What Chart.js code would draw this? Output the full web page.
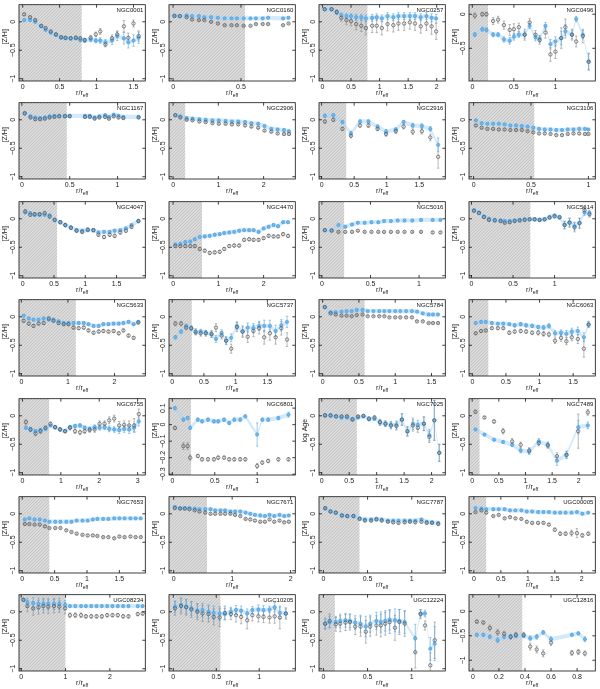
<!DOCTYPE html>
<html>
<head>
<meta charset="utf-8">
<script src="https://cdn.jsdelivr.net/npm/chart.js@4/dist/chart.umd.min.js"></script>
<style>
  body { margin: 0; background: #fff; }
  #grid { position: relative; width: 600px; height: 689px; }
  #grid canvas { position: absolute; }
</style>
</head>
<body>
<div id="grid"></div>
<script>
const galaxyNames = [
  "NGC0001", "NGC0160", "NGC0257", "NGC0496",
  "NGC1167", "NGC2906", "NGC2916", "NGC3106",
  "NGC4047", "NGC4470", "NGC5016", "NGC5614",
  "NGC5633", "NGC5737", "NGC5784", "NGC6063",
  "NGC6755", "NGC6801", "NGC7025", "NGC7489",
  "NGC7653", "NGC7671", "NGC7787", "UGC00005",
  "UGC08234", "UGC10205", "UGC12224", "UGC12816",
];

// r / r_eff of each radial bin
const radius = [
  [0.02,0.1,0.17,0.25,0.31,0.38,0.45,0.52,0.58,0.65,0.72,0.78,0.84,0.92,0.99,1.05,1.12,1.21,1.28,1.37,1.43,1.5,1.57],
  [0.01,0.05,0.1,0.14,0.19,0.23,0.28,0.33,0.38,0.43,0.47,0.52,0.57,0.61,0.66,0.7,0.81,0.85],
  [0.04,0.16,0.25,0.33,0.42,0.5,0.59,0.68,0.76,0.87,0.95,1.04,1.14,1.24,1.33,1.43,1.53,1.62,1.72,1.82,1.91,1.99],
  [0.03,0.12,0.17,0.25,0.31,0.38,0.45,0.5,0.56,0.63,0.69,0.76,0.81,0.88,0.94,1.0,1.07,1.12,1.2,1.25,1.33,1.4],
  [0.03,0.09,0.14,0.19,0.24,0.29,0.34,0.39,0.45,0.5,0.66,0.71,0.76,0.81,0.87,0.91,0.96,1.01,1.06,1.22],
  [0.05,0.16,0.3,0.43,0.58,0.72,0.87,1.01,1.16,1.3,1.44,1.59,1.73,1.88,2.02,2.17,2.31,2.45,2.56],
  [0.05,0.18,0.32,0.45,0.59,0.72,0.86,0.99,1.14,1.26,1.4,1.54,1.67,1.79],
  [0.02,0.07,0.12,0.17,0.22,0.27,0.32,0.37,0.42,0.47,0.52,0.57,0.62,0.67,0.72,0.77,0.82,0.87,0.92,0.97,1.0],
  [0.04,0.12,0.19,0.27,0.35,0.43,0.51,0.6,0.68,0.77,0.86,0.95,1.04,1.13,1.21,1.3,1.39,1.47,1.56,1.65,1.74,1.85],
  [0.05,0.16,0.27,0.38,0.48,0.59,0.7,0.81,0.92,1.03,1.13,1.24,1.35,1.46,1.57,1.68,1.78,1.89,2.0,2.11,2.22,2.32,2.43,2.54],
  [0.03,0.1,0.17,0.24,0.31,0.37,0.44,0.51,0.58,0.64,0.71,0.78,0.85,0.93,1.02,1.14,1.22],
  [0.03,0.09,0.15,0.21,0.28,0.35,0.4,0.46,0.52,0.58,0.64,0.7,0.76,0.82,0.88,0.94,1.0,1.06,1.12,1.18,1.24,1.3,1.36,1.42],
  [0.05,0.16,0.26,0.37,0.48,0.59,0.69,0.8,0.91,1.01,1.12,1.23,1.34,1.44,1.55,1.66,1.76,1.87,1.98,2.09,2.19,2.3,2.41,2.51],
  [0.05,0.14,0.22,0.3,0.37,0.45,0.53,0.62,0.69,0.78,0.85,0.93,1.02,1.11,1.19,1.28,1.37,1.45,1.54,1.63,1.72,1.81],
  [0.03,0.11,0.18,0.26,0.33,0.4,0.47,0.55,0.62,0.7,0.78,0.85,0.92,1.0,1.07,1.15,1.23,1.3,1.38,1.46,1.52,1.59],
  [0.05,0.13,0.2,0.29,0.38,0.46,0.55,0.63,0.72,0.8,0.89,0.98,1.06,1.14,1.23,1.32,1.4,1.48,1.57,1.66,1.73],
  [0.09,0.21,0.34,0.47,0.6,0.73,0.85,0.98,1.11,1.24,1.37,1.5,1.62,1.75,1.88,2.01,2.14,2.26,2.39,2.52,2.65,2.78,2.91,3.03],
  [0.03,0.13,0.18,0.21,0.3,0.35,0.42,0.49,0.54,0.61,0.67,0.73,0.8,0.86,1.0,1.06,1.13,1.25,1.37],
  [0.06,0.16,0.26,0.36,0.46,0.56,0.66,0.76,0.86,0.96,1.06,1.16,1.26,1.36,1.46,1.56,1.66,1.75,1.86,1.96,2.05,2.14],
  [0.06,0.23,0.41,0.58,0.75,0.91,1.07,1.25,1.42,1.59,1.77,1.99,2.17],
  [0.04,0.11,0.19,0.27,0.35,0.42,0.51,0.59,0.68,0.76,0.84,0.93,1.01,1.09,1.16,1.25,1.33,1.42,1.5,1.58,1.67,1.75,1.83],
  [0.02,0.11,0.19,0.27,0.36,0.44,0.54,0.63,0.71,0.8,0.88,0.97,1.05,1.14,1.23,1.31,1.39,1.48,1.56,1.64,1.72,1.81,1.89,1.97],
  [0.02,0.08,0.14,0.21,0.27,0.34,0.41,0.47,0.54,0.6,0.66,0.73,0.79,0.85,0.92,0.98,1.04,1.11,1.17,1.23,1.3],
  [0.03,0.14,0.23,0.36,0.46,0.57,0.67,0.77,0.88,0.98,1.08,1.19,1.29,1.39,1.5,1.6,1.7,1.81,1.91,2.01,2.12],
  [0.05,0.14,0.27,0.39,0.5,0.61,0.74,0.86,0.99,1.1,1.22,1.35,1.46,1.58,1.7,1.82,1.94,2.06,2.18,2.3,2.42,2.63,2.74],
  [0.02,0.09,0.15,0.21,0.28,0.34,0.41,0.47,0.54,0.6,0.67,0.73,0.79,0.86,0.92,0.99,1.05,1.12,1.18,1.24,1.31],
  [0.02,0.07,0.14,0.19,0.25,0.3,0.36,0.42,0.48,0.53,0.6,0.65,0.7,0.75,0.81,0.86,0.92,1.04,1.1,1.15,1.21,1.26],
  [0.03,0.08,0.13,0.19,0.24,0.29,0.33,0.39,0.44,0.49,0.54,0.6,0.76,0.81,0.86],
];

// light-weighted values (blue, filled)
const zhLight = [
  [0.03,0.03,0,-0.08,-0.14,-0.19,-0.23,-0.28,-0.29,-0.29,-0.29,-0.32,-0.33,-0.31,-0.33,-0.33,-0.36,-0.33,-0.25,-0.29,-0.36,-0.33,-0.28],
  [0.11,0.1,0.11,0.1,0.1,0.08,0.08,0.07,0.06,0.06,0.06,0.06,0.06,0.06,0.06,0.07,0.06,0.07],
  [0.22,0.22,0.17,0.12,0.1,0.1,0.08,0.08,0.06,0.07,0.08,0.06,0.1,0.08,0.1,0.1,0.1,0.1,0.08,0.1,0.07,0.06],
  [-0.3,-0.22,-0.23,-0.3,-0.3,-0.37,-0.39,-0.33,-0.3,-0.3,-0.17,-0.34,-0.36,-0.17,-0.44,-0.4,-0.35,-0.25,-0.3,-0.07,-0.3,-0.69],
  [0.12,0.06,0.04,0.03,0.04,0.06,0.07,0.07,0.07,0.07,0.07,0.07,0.04,0.06,0.08,0.05,0.09,0.07,0.05,0.05],
  [0.08,0.06,0.03,0.02,0.01,0,-0.01,-0.01,-0.02,-0.03,-0.03,-0.04,-0.06,-0.07,-0.11,-0.16,-0.17,-0.18,-0.2],
  [0.07,0.08,-0.04,-0.24,-0.03,-0.03,-0.12,-0.21,-0.17,-0.04,-0.1,-0.11,-0.16,-0.44],
  [-0.01,-0.06,-0.07,-0.07,-0.07,-0.08,-0.1,-0.1,-0.11,-0.12,-0.14,-0.16,-0.17,-0.17,-0.18,-0.18,-0.17,-0.17,-0.16,-0.16,-0.17],
  [0.11,0.1,0.07,0.07,0.07,0.06,-0.02,-0.06,-0.11,-0.15,-0.2,-0.21,-0.2,-0.2,-0.24,-0.23,-0.23,-0.21,-0.2,-0.17,-0.11,-0.04],
  [-0.45,-0.44,-0.41,-0.4,-0.36,-0.32,-0.31,-0.3,-0.28,-0.27,-0.25,-0.24,-0.23,-0.21,-0.2,-0.2,-0.2,-0.23,-0.17,-0.14,-0.11,-0.13,-0.06,-0.06],
  [-0.2,-0.2,-0.11,-0.14,-0.1,-0.07,-0.07,-0.06,-0.06,-0.04,-0.04,-0.03,-0.03,-0.03,-0.02,-0.02,-0.02],
  [0.15,0.11,0.04,0,-0.02,-0.03,-0.04,-0.04,-0.03,-0.02,-0.01,-0.01,-0.01,-0.02,-0.01,0.03,0.06,0.02,-0.11,-0.06,-0.13,-0.07,0.11,0.1],
  [0.02,-0.03,-0.05,-0.05,-0.03,-0.05,-0.05,-0.08,-0.11,-0.11,-0.11,-0.11,-0.11,-0.13,-0.16,-0.16,-0.13,-0.13,-0.12,-0.12,-0.11,-0.09,-0.13,-0.09],
  [-0.36,-0.26,-0.16,-0.2,-0.28,-0.26,-0.28,-0.31,-0.39,-0.28,-0.42,-0.37,-0.16,-0.26,-0.19,-0.2,-0.16,-0.16,-0.16,-0.25,-0.15,-0.09],
  [0.17,0.08,0.08,0.09,0.1,0.1,0.12,0.12,0.1,0.1,0.1,0.1,0.1,0.1,0.1,0.1,0.1,0.09,0.06,0.04,0.04,0.04],
  [-0.11,-0.09,-0.09,-0.11,-0.12,-0.12,-0.13,-0.15,-0.13,-0.15,-0.16,-0.18,-0.19,-0.16,-0.29,-0.28,-0.3,-0.26,-0.25,-0.36,-0.13],
  [-0.21,-0.24,-0.27,-0.25,-0.23,-0.17,-0.2,-0.24,-0.27,-0.2,-0.18,-0.17,-0.21,-0.23,-0.2,-0.21,-0.2,-0.23,-0.24,-0.25,-0.23,-0.24,-0.21,-0.1],
  [0.1,0.03,0.04,-0.02,0.03,0.02,0.03,0.02,0.02,0.03,0.01,0.03,0.03,0.05,-0.06,0.03,0.03,0.04,0.06],
  [0,0,-0.01,-0.03,-0.03,-0.07,-0.03,-0.01,-0.06,-0.05,-0.12,-0.14,-0.16,-0.16,-0.06,-0.28,-0.14,-0.16,-0.14,-0.34,-0.08,-0.65],
  [-0.24,-0.33,-0.42,-0.46,-0.51,-0.61,-0.63,-0.45,-0.51,-0.79,-0.68,-0.2,-0.17],
  [-0.1,-0.08,-0.1,-0.1,-0.12,-0.14,-0.14,-0.14,-0.14,-0.14,-0.12,-0.12,-0.12,-0.1,-0.09,-0.09,-0.09,-0.08,-0.08,-0.08,-0.08,-0.08,-0.08],
  [0.12,0.1,0.1,0.1,0.09,0.08,0.08,0.08,0.06,0.06,0.06,0.04,0.04,0.04,0.02,0,-0.02,-0.03,-0.04,-0.02,-0.04,-0.02,-0.04,-0.03],
  [0.09,0.04,0.02,-0.03,-0.04,-0.04,-0.08,-0.1,-0.1,-0.09,-0.1,-0.12,-0.12,-0.12,-0.12,-0.12,-0.12,-0.1,-0.14,-0.15,-0.16],
  [0.1,0.09,0.08,0.08,0.08,0.08,0.06,0.06,0.06,0.04,0.04,0.03,0.03,0.03,0.02,0.02,0.02,0.02,0.03,0,0.02],
  [0.21,0.16,0.15,0.14,0.14,0.14,0.14,0.14,0.12,0.1,0.1,0.1,0.1,0.1,0.1,0.1,0.1,0.1,0.1,0.1,0.1,0.1,0.1],
  [0.09,0.12,0.09,0.06,0.02,0.03,0,-0.02,-0.03,-0.04,0,0.03,0.02,-0.03,0.03,0.04,0.03,0.04,0.08,-0.02,-0.03],
  [-0.21,-0.18,-0.18,-0.16,-0.15,-0.16,-0.19,-0.21,-0.26,-0.21,-0.16,-0.18,-0.16,-0.14,-0.15,-0.16,-0.18,-0.47,-0.03,-0.03,-0.65,-0.56],
  [-0.48,-0.48,-0.52,-0.59,-0.52,-0.52,-0.5,-0.5,-0.55,-0.52,-0.43,-0.57,-0.48,-0.45,-0.57],
];

// mass-weighted values (grey, open)
const zhMass = [
  [0.13,0.08,0.03,-0.07,-0.11,-0.17,-0.22,-0.27,-0.28,-0.29,-0.28,-0.29,-0.32,-0.28,-0.22,-0.17,-0.4,-0.29,-0.22,-0.08,-0.28,-0.03,-0.25],
  [0.1,0.1,0.08,0.04,0.03,0.03,0,-0.03,-0.06,-0.06,-0.06,-0.07,-0.07,-0.04,-0.04,-0.04,-0.06,-0.03],
  [0.22,0.22,0.17,0.07,0.03,0.01,-0.04,-0.07,-0.11,-0.07,-0.07,-0.11,-0.04,-0.06,-0.03,-0.03,-0.01,-0.03,-0.08,-0.03,-0.08,-0.17],
  [-0.02,0,0,-0.1,-0.08,-0.16,-0.23,-0.22,-0.19,-0.3,-0.12,-0.3,-0.38,-0.27,-0.59,-0.55,-0.35,-0.19,-0.3,-0.4,-0.32,-0.7],
  [0.11,0.04,0.01,0.01,0.02,0.04,0.05,0.06,0.06,0.06,0.05,0.05,0.02,0.04,0.05,0.02,0.06,0.04,0.03,0.04],
  [0.08,0.04,0,-0.01,-0.03,-0.04,-0.06,-0.07,-0.07,-0.08,-0.08,-0.1,-0.12,-0.14,-0.19,-0.21,-0.24,-0.25,-0.25],
  [-0.03,0,-0.16,-0.28,-0.1,-0.1,-0.16,-0.25,-0.2,-0.12,-0.21,-0.2,-0.31,-0.65],
  [-0.1,-0.14,-0.16,-0.16,-0.17,-0.17,-0.18,-0.18,-0.18,-0.2,-0.22,-0.24,-0.24,-0.25,-0.27,-0.27,-0.25,-0.24,-0.24,-0.25,-0.25],
  [0.13,0.07,0.08,0.08,0.1,0.04,-0.02,-0.06,-0.11,-0.16,-0.21,-0.23,-0.19,-0.2,-0.28,-0.32,-0.28,-0.3,-0.24,-0.21,-0.14,-0.04],
  [-0.48,-0.48,-0.48,-0.48,-0.48,-0.53,-0.56,-0.6,-0.59,-0.58,-0.53,-0.48,-0.47,-0.47,-0.37,-0.36,-0.37,-0.37,-0.34,-0.3,-0.31,-0.31,-0.27,-0.3],
  [-0.2,-0.21,-0.23,-0.23,-0.23,-0.21,-0.23,-0.23,-0.23,-0.23,-0.23,-0.23,-0.23,-0.23,-0.23,-0.24,-0.24],
  [0.14,0.1,0.03,-0.02,-0.03,-0.04,-0.07,-0.06,-0.04,-0.03,-0.02,-0.01,-0.01,-0.02,-0.01,0.02,0.04,0.03,-0.11,-0.07,-0.15,-0.08,0.15,0.08],
  [-0.07,-0.12,-0.16,-0.12,-0.11,-0.03,-0.07,-0.11,-0.13,-0.13,-0.19,-0.2,-0.19,-0.24,-0.28,-0.26,-0.25,-0.26,-0.25,-0.29,-0.24,-0.33,-0.37,-0.1],
  [-0.12,-0.12,-0.19,-0.2,-0.26,-0.29,-0.29,-0.3,-0.19,-0.33,-0.42,-0.56,-0.18,-0.26,-0.35,-0.25,-0.2,-0.36,-0.29,-0.36,-0.2,-0.4],
  [0.17,0.06,0.04,0.02,0.02,0.01,0.03,0.04,0.01,0.01,0.01,0.01,-0.01,-0.01,-0.01,-0.01,-0.01,-0.08,-0.08,-0.11,-0.11,-0.11],
  [-0.29,-0.25,-0.24,-0.2,-0.2,-0.2,-0.28,-0.26,-0.25,-0.26,-0.28,-0.28,-0.3,-0.31,-0.42,-0.37,-0.43,-0.36,-0.39,-0.56,-0.14],
  [-0.11,-0.24,-0.31,-0.27,-0.21,-0.14,-0.2,-0.24,-0.27,-0.21,-0.27,-0.29,-0.27,-0.25,-0.24,-0.14,-0.14,-0.08,-0.05,-0.17,-0.16,-0.17,-0.17,0.03],
  [-0.02,-0.13,-0.13,-0.2,-0.19,-0.21,-0.21,-0.21,-0.2,-0.2,-0.21,-0.21,-0.21,-0.21,-0.25,-0.23,-0.22,-0.21,-0.21],
  [0.01,0.01,-0.01,-0.01,-0.01,-0.06,-0.01,0,-0.05,-0.03,-0.11,-0.14,-0.17,-0.18,-0.07,-0.27,-0.17,-0.21,-0.14,-0.37,-0.08,-0.65],
  [0.07,-0.03,-0.1,-0.27,-0.45,-0.51,-0.61,-0.48,-0.52,-0.71,-0.69,-0.27,0.06],
  [-0.18,-0.18,-0.19,-0.19,-0.22,-0.25,-0.25,-0.25,-0.29,-0.32,-0.35,-0.37,-0.38,-0.38,-0.39,-0.41,-0.41,-0.43,-0.4,-0.41,-0.4,-0.41,-0.41],
  [0.1,0.09,0.09,0.08,0.06,0.04,0.02,0,0,0,0,0,-0.02,-0.04,-0.09,-0.1,-0.12,-0.14,-0.14,-0.1,-0.14,-0.12,-0.15,-0.14],
  [0.1,0.04,0.02,-0.03,-0.04,-0.04,-0.09,-0.12,-0.12,-0.1,-0.12,-0.14,-0.15,-0.16,-0.15,-0.14,-0.15,-0.14,-0.16,-0.16,-0.18],
  [0.03,0.06,0.02,-0.04,-0.02,-0.08,-0.06,-0.08,-0.09,-0.14,-0.16,-0.16,-0.16,-0.19,-0.28,-0.35,-0.35,-0.34,-0.34,-0.38,-0.35],
  [0.21,0.1,0.06,0.08,0.1,0.09,0.1,0.09,0.06,-0.06,-0.06,-0.06,-0.08,-0.08,-0.08,-0.08,-0.06,-0.06,-0.06,-0.08,-0.08,-0.04,-0.03],
  [0.06,0.1,0.08,0.04,0,-0.03,-0.04,-0.09,-0.1,-0.02,-0.04,-0.06,-0.09,-0.15,-0.06,-0.08,-0.09,-0.1,-0.08,-0.1,-0.03],
  [-0.21,-0.16,-0.22,-0.21,-0.19,-0.18,-0.26,-0.26,-0.35,-0.26,-0.24,-0.24,-0.21,-0.18,-0.28,-0.18,-0.21,-0.71,-0.04,-0.24,-0.94,-0.5],
  [-0.21,-0.23,-0.34,-0.43,-0.46,-0.52,-0.48,-0.48,-0.72,-0.78,-0.86,-0.64,-0.85,-0.83,-0.86],
];

// 1-sigma errors, one number for the whole profile or one per bin
const errLight = [
  [0.02,0.02,0.02,0.02,0.02,0.02,0.02,0.02,0.02,0.02,0.02,0.03,0.03,0.04,0.04,0.05,0.05,0.07,0.08,0.1,0.1,0.1,0.1],
  0.01,
  [0.02,0.02,0.03,0.03,0.04,0.04,0.05,0.05,0.06,0.06,0.06,0.06,0.06,0.06,0.06,0.06,0.06,0.06,0.06,0.06,0.07,0.07],
  [0.03,0.03,0.03,0.03,0.03,0.04,0.05,0.05,0.04,0.05,0.04,0.05,0.05,0.05,0.07,0.07,0.1,0.1,0.06,0.04,0.06,0.12],
  0.02,
  0.015,
  [0.03,0.03,0.03,0.04,0.03,0.03,0.03,0.04,0.03,0.03,0.04,0.04,0.04,0.12],
  0.015,
  0.02,
  0.02,
  0.015,
  [0.02,0.02,0.02,0.02,0.02,0.02,0.02,0.02,0.02,0.02,0.02,0.02,0.02,0.02,0.02,0.02,0.02,0.02,0.06,0.07,0.07,0.08,0.05,0.05],
  0.02,
  [0.03,0.03,0.03,0.03,0.04,0.04,0.04,0.05,0.06,0.05,0.06,0.07,0.07,0.08,0.08,0.08,0.08,0.1,0.1,0.1,0.1,0.1],
  0.012,
  [0.02,0.02,0.02,0.02,0.02,0.02,0.02,0.03,0.03,0.03,0.03,0.03,0.04,0.04,0.05,0.05,0.06,0.06,0.07,0.08,0.05],
  [0.03,0.03,0.03,0.03,0.03,0.02,0.02,0.02,0.02,0.03,0.03,0.03,0.03,0.03,0.04,0.04,0.04,0.05,0.05,0.06,0.06,0.07,0.07,0.08],
  [0.01,0.01,0.01,0.01,0.01,0.01,0.01,0.01,0.01,0.01,0.01,0.01,0.01,0.01,0.07,0.01,0.01,0.01,0.015],
  [0.02,0.02,0.02,0.02,0.02,0.02,0.02,0.02,0.03,0.03,0.05,0.05,0.06,0.07,0.1,0.08,0.1,0.08,0.12,0.1,0.35,0.15],
  [0.02,0.02,0.02,0.02,0.03,0.04,0.05,0.05,0.05,0.08,0.06,0.12,0.06],
  0.015,
  0.012,
  0.015,
  0.012,
  [0.02,0.08,0.1,0.1,0.1,0.1,0.1,0.1,0.08,0.02,0.02,0.02,0.02,0.02,0.02,0.02,0.02,0.02,0.02,0.02,0.02,0.02,0.02],
  [0.1,0.12,0.12,0.12,0.12,0.12,0.12,0.12,0.12,0.1,0.08,0.08,0.08,0.08,0.06,0.08,0.08,0.06,0.08,0.1,0.08],
  [0.08,0.1,0.1,0.12,0.12,0.12,0.12,0.15,0.18,0.15,0.15,0.18,0.18,0.18,0.2,0.2,0.2,0.25,0.06,0.06,0.2,0.3],
  [0.03,0.03,0.04,0.05,0.04,0.04,0.04,0.04,0.05,0.05,0.04,0.05,0.03,0.03,0.05],
];

const errMass = [
  [0.02,0.02,0.02,0.02,0.02,0.02,0.02,0.02,0.02,0.03,0.03,0.03,0.03,0.04,0.04,0.05,0.04,0.06,0.06,0.1,0.08,0.06,0.09],
  0.01,
  [0.02,0.02,0.04,0.06,0.08,0.08,0.1,0.1,0.12,0.12,0.12,0.12,0.12,0.12,0.12,0.12,0.12,0.12,0.12,0.12,0.14,0.14],
  [0.04,0.03,0.03,0.05,0.05,0.06,0.08,0.08,0.06,0.08,0.06,0.06,0.06,0.08,0.1,0.1,0.15,0.12,0.08,0.08,0.1,0.12],
  0.02,
  0.015,
  [0.03,0.03,0.03,0.04,0.03,0.03,0.03,0.04,0.04,0.04,0.05,0.05,0.06,0.2],
  0.015,
  0.03,
  0.025,
  0.015,
  [0.02,0.02,0.02,0.02,0.02,0.02,0.02,0.02,0.02,0.02,0.02,0.02,0.02,0.02,0.02,0.02,0.02,0.02,0.07,0.08,0.08,0.09,0.05,0.05],
  0.025,
  [0.04,0.04,0.04,0.04,0.05,0.05,0.05,0.06,0.07,0.06,0.07,0.08,0.08,0.1,0.1,0.1,0.1,0.12,0.12,0.12,0.12,0.12],
  0.012,
  [0.02,0.02,0.02,0.02,0.02,0.02,0.03,0.03,0.03,0.03,0.03,0.04,0.04,0.04,0.05,0.06,0.06,0.06,0.08,0.15,0.05],
  [0.04,0.04,0.04,0.04,0.03,0.03,0.03,0.03,0.03,0.04,0.04,0.04,0.04,0.04,0.05,0.05,0.05,0.06,0.06,0.07,0.07,0.08,0.12,0.09],
  [0.01,0.02,0.02,0.015,0.01,0.01,0.01,0.01,0.01,0.01,0.01,0.01,0.01,0.01,0.015,0.01,0.01,0.01,0.01],
  [0.02,0.02,0.02,0.02,0.02,0.02,0.02,0.02,0.03,0.03,0.05,0.05,0.06,0.07,0.1,0.08,0.1,0.08,0.12,0.1,0.35,0.15],
  [0.03,0.02,0.03,0.05,0.05,0.05,0.05,0.05,0.05,0.06,0.06,0.3,0.05],
  0.015,
  0.015,
  0.02,
  [0.015,0.015,0.015,0.015,0.015,0.015,0.015,0.015,0.015,0.02,0.02,0.02,0.02,0.02,0.03,0.03,0.03,0.05,0.08,0.03,0.03],
  [0.02,0.1,0.12,0.12,0.12,0.12,0.12,0.1,0.1,0.04,0.04,0.04,0.03,0.03,0.03,0.03,0.03,0.03,0.03,0.03,0.03,0.03,0.03],
  [0.12,0.14,0.14,0.14,0.14,0.14,0.14,0.14,0.16,0.12,0.1,0.12,0.12,0.15,0.1,0.1,0.1,0.1,0.12,0.2,0.1],
  [0.1,0.12,0.12,0.14,0.14,0.14,0.14,0.17,0.2,0.17,0.17,0.2,0.2,0.2,0.22,0.22,0.22,0.28,0.08,0.08,0.22,0.32],
  [0.03,0.03,0.06,0.06,0.05,0.05,0.05,0.05,0.07,0.07,0.07,0.06,0.05,0.05,0.05],
];

// inner region affected by seeing (hatched), in r / r_eff
const hatchEdge = [0.8, 0.53, 0.79, 0.19, 0.47, 0.27, 0.38, 0.53, 0.55, 0.64, 0.23, 0.71, 1.17, 0.31, 0.58, 0.24, 0.7, 0.22, 0.64, 0.14, 0.42, 0.57, 0.41, 0.23, 1.0, 0.55, 0.13, 0.38];

// axis ranges and tick steps
const xMin = [-0.05, -0.03, -0.06, -0.04, -0.03, -0.09, -0.04, -0.04, -0.06, -0.09, -0.03, -0.03, -0.05, -0.05, -0.05, -0.05, -0.09, -0.04, -0.05, -0.06, -0.05, -0.08, -0.05, -0.09, -0.05, -0.05, -0.05, -0.03];
const xMax = [1.66, 0.9, 2.15, 1.48, 1.29, 2.7, 1.9, 1.06, 1.96, 2.7, 1.27, 1.49, 2.66, 1.94, 1.69, 1.83, 3.2, 1.45, 2.25, 2.31, 1.9, 2.08, 1.38, 2.25, 2.8, 1.42, 1.38, 0.94];
const xStep = [0.5, 0.5, 0.5, 0.5, 0.5, 1, 0.5, 0.5, 0.5, 1, 0.5, 0.5, 1, 0.5, 0.5, 0.5, 1, 0.5, 0.5, 0.5, 0.5, 1, 0.5, 0.5, 1, 0.5, 0.5, 0.2];
const yMin = [-1.04, -1.04, -1.04, -0.98, -1.04, -1.04, -1.04, -1.04, -1.04, -1.04, -1.04, -1.04, -1.04, -1.04, -1.04, -1.04, -1.04, -0.305, -1.04, -1.04, -1.04, -1.04, -1.04, -1.04, -1.04, -1.04, -1.04, -1.22];
const yMax = [0.3, 0.3, 0.3, 0.14, 0.3, 0.3, 0.3, 0.3, 0.3, 0.3, 0.3, 0.3, 0.3, 0.3, 0.3, 0.3, 0.3, 0.157, 0.3, 0.3, 0.3, 0.3, 0.3, 0.3, 0.3, 0.3, 0.3, 0.34];
const yStep = [0.5, 0.5, 0.5, 0.5, 0.5, 0.5, 0.5, 0.5, 0.5, 0.5, 0.5, 0.5, 0.5, 0.5, 0.5, 0.5, 0.5, 0.1, 0.5, 0.5, 0.5, 0.5, 0.5, 0.5, 0.5, 0.5, 0.5, 0.5];
const yTitles = galaxyNames.map((n) => (n === "NGC7025" ? "log Age" : "[Z/H]"));

const FONT = '"Liberation Sans", Arial, sans-serif';
// half-width of the light-blue band, as a share of the y span
const BAND_FRAC = 0.028;

function errAt(e, k) {
  return Array.isArray(e) ? e[k] : e;
}

function fmtTick(v) {
  const r = Math.round(v * 100) / 100;
  return (r < 0 ? "\u2212" : "") + String(Math.abs(r));
}

const panelDecor = {
  id: "panelDecor",
  beforeDatasetsDraw(chart) {
    const i = +chart.canvas.dataset.panel;
    const { ctx, chartArea: a, scales } = chart;
    const edge = scales.x.getPixelForValue(hatchEdge[i]);
    const h = a.bottom - a.top;
    ctx.save();
    ctx.beginPath();
    ctx.rect(a.left, a.top, edge - a.left, h);
    ctx.clip();
    ctx.fillStyle = "#dcdcdc";
    ctx.fillRect(a.left, a.top, edge - a.left, h);
    ctx.strokeStyle = "#ababab";
    ctx.lineWidth = 0.55;
    ctx.beginPath();
    for (let k = -h; k < edge - a.left; k += 3.2) {
      ctx.moveTo(a.left + k, a.bottom);
      ctx.lineTo(a.left + k + h, a.top);
    }
    ctx.stroke();
    ctx.restore();
  },
  beforeDatasetDraw(chart, args) {
    // error bars go under the markers
    if (args.index !== 0) return;
    const i = +chart.canvas.dataset.panel;
    const { ctx, chartArea: a, scales: { x, y } } = chart;
    ctx.save();
    ctx.beginPath();
    ctx.rect(a.left, a.top, a.right - a.left, a.bottom - a.top);
    ctx.clip();
    ctx.lineWidth = 0.6;
    const sets = [
      [zhMass[i], errMass[i], "#8c8c8c"],
      [zhLight[i], errLight[i], "#5aa6df"],
    ];
    sets.forEach(([vals, errs, color]) => {
      ctx.strokeStyle = color;
      ctx.beginPath();
      radius[i].forEach((r, k) => {
        const e = errAt(errs, k);
        if (vals[k] == null || !e) return;
        const px = x.getPixelForValue(r);
        const y1 = y.getPixelForValue(vals[k] + e);
        const y2 = y.getPixelForValue(vals[k] - e);
        ctx.moveTo(px, y1);
        ctx.lineTo(px, y2);
        ctx.moveTo(px - 1.2, y1);
        ctx.lineTo(px + 1.2, y1);
        ctx.moveTo(px - 1.2, y2);
        ctx.lineTo(px + 1.2, y2);
      });
      ctx.stroke();
    });
    ctx.restore();
  },
  afterDraw(chart) {
    const i = +chart.canvas.dataset.panel;
    const { ctx, chartArea: a, scales: { x, y } } = chart;
    ctx.save();
    ctx.strokeStyle = "#111";
    ctx.lineWidth = 0.8;
    ctx.strokeRect(a.left, a.top, a.right - a.left, a.bottom - a.top);
    ctx.beginPath();
    x.ticks.forEach((t) => {
      const px = x.getPixelForValue(t.value);
      ctx.moveTo(px, a.bottom);
      ctx.lineTo(px, a.bottom - 3);
      ctx.moveTo(px, a.top);
      ctx.lineTo(px, a.top + 3);
    });
    y.ticks.forEach((t) => {
      const py = y.getPixelForValue(t.value);
      ctx.moveTo(a.left, py);
      ctx.lineTo(a.left + 3, py);
      ctx.moveTo(a.right, py);
      ctx.lineTo(a.right - 3, py);
    });
    ctx.stroke();

    ctx.fillStyle = "#222";
    ctx.textAlign = "center";
    ctx.textBaseline = "middle";
    ctx.font = "7px " + FONT;
    y.ticks.forEach((t) => {
      ctx.save();
      ctx.translate(a.left - 6, y.getPixelForValue(t.value));
      ctx.rotate(-Math.PI / 2);
      ctx.fillText(fmtTick(t.value), 0, 0);
      ctx.restore();
    });

    ctx.save();
    ctx.translate(5, a.top + (a.bottom - a.top) * 0.42);
    ctx.rotate(-Math.PI / 2);
    ctx.fillText(yTitles[i], 0, 0);
    ctx.restore();

    // r/r_eff
    const main = "r/r";
    ctx.font = "7px " + FONT;
    const w1 = ctx.measureText(main).width;
    ctx.font = "5px " + FONT;
    const w2 = ctx.measureText("eff").width;
    const x0 = (a.left + a.right) / 2 - (w1 + w2) / 2;
    ctx.textAlign = "left";
    ctx.font = "7px " + FONT;
    ctx.fillText(main, x0, 93.5);
    ctx.font = "5px " + FONT;
    ctx.fillText("eff", x0 + w1, 95.5);

    ctx.font = "6px " + FONT;
    ctx.textAlign = "right";
    ctx.textBaseline = "top";
    ctx.fillStyle = "#111";
    ctx.fillText(galaxyNames[i], a.right - 2, a.top + 2.5);
    ctx.restore();
  },
};

Chart.defaults.font.family = FONT;

const grid = document.getElementById("grid");

galaxyNames.forEach(function (name, i) {
  const canvas = document.createElement("canvas");
  canvas.width = 150;
  canvas.height = 98;
  canvas.style.left = (i % 4) * 150 + "px";
  canvas.style.top = Math.round(Math.floor(i / 4) * 98.4) + "px";
  canvas.dataset.panel = i;
  grid.appendChild(canvas);

  const band = BAND_FRAC * (yMax[i] - yMin[i]);
  const r = radius[i];
  const light = r.map((v, k) => ({ x: v, y: zhLight[i][k] }));
  const mass = r.map((v, k) => ({ x: v, y: zhMass[i][k] }));
  const bandHi = r.map((v, k) => ({ x: v, y: zhLight[i][k] + band }));
  const bandLo = r.map((v, k) => ({ x: v, y: zhLight[i][k] - band }));

  new Chart(canvas, {
    type: "scatter",
    data: {
      datasets: [
        {
          label: "light",
          data: light,
          order: 2,
          pointRadius: 1.7,
          pointBackgroundColor: "#6cb6ee",
          pointBorderColor: "#4696d6",
          pointBorderWidth: 0.5,
          showLine: false,
        },
        {
          label: "mass",
          data: mass,
          order: 1,
          pointRadius: 1.7,
          pointBackgroundColor: "rgba(0,0,0,0)",
          pointBorderColor: "#505050",
          pointBorderWidth: 0.7,
          showLine: false,
        },
        {
          label: "bandHi",
          data: bandHi,
          order: 3,
          showLine: true,
          pointRadius: 0,
          borderWidth: 0,
          borderColor: "rgba(0,0,0,0)",
        },
        {
          label: "bandLo",
          data: bandLo,
          order: 3,
          showLine: true,
          pointRadius: 0,
          borderWidth: 0,
          borderColor: "rgba(0,0,0,0)",
          backgroundColor: "rgba(170, 214, 245, 0.5)",
          fill: "-1",
        },
      ],
    },
    options: {
      responsive: false,
      animation: false,
      events: [],
      layout: { padding: { top: 2, right: 2, left: 0, bottom: 0 } },
      plugins: {
        legend: { display: false },
        tooltip: { enabled: false },
      },
      scales: {
        x: {
          type: "linear",
          min: xMin[i],
          max: xMax[i],
          grid: { display: false, drawTicks: false },
          border: { display: false },
          ticks: {
            stepSize: xStep[i],
            includeBounds: false,
            autoSkip: false,
            maxRotation: 0,
            padding: 2,
            color: "#222",
            font: { size: 7 },
            callback: (v) => fmtTick(v),
          },
          afterFit(scale) {
            scale.height = 17;
          },
        },
        y: {
          type: "linear",
          min: yMin[i],
          max: yMax[i],
          grid: { display: false, drawTicks: false },
          border: { display: false },
          ticks: { stepSize: yStep[i], includeBounds: false, display: false },
          afterFit(scale) {
            scale.width = 19;
          },
        },
      },
    },
    plugins: [panelDecor],
  });
});
</script>
</body>
</html>
